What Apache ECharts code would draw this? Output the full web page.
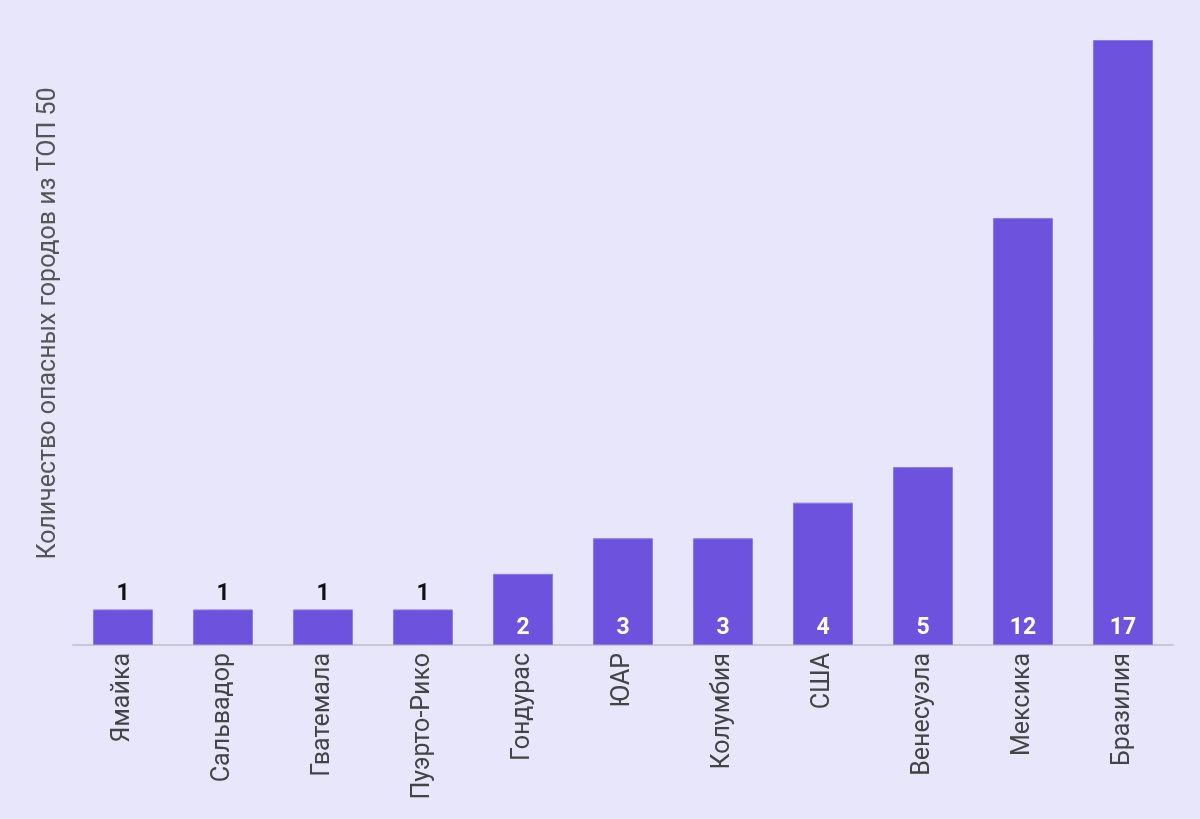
<!DOCTYPE html>
<html><head><meta charset="utf-8">
<style>html,body{margin:0;padding:0;background:#e8e6fa;}#c{width:1200px;height:819px;}</style>
<script src="https://cdn.jsdelivr.net/npm/echarts@6/dist/echarts.min.js"></script>
</head><body><div id="c"></div>
<script>
const categories = ['Ямайка','Сальвадор','Гватемала','Пуэрто-Рико','Гондурас','ЮАР','Колумбия','США','Венесуэла','Мексика','Бразилия'];
const values = [1,1,1,1,2,3,3,4,5,12,17];
const yAxisName = 'Количество опасных городов из ТОП 50';

const chart = echarts.init(document.getElementById('c'));
const data = values.map(v => ({
  value: v,
  label: v < 2
    ? {position: 'top', color: '#111', distance: 4}
    : {position: 'insideBottom', color: '#ffffff', distance: 5}
}));
chart.setOption({
  backgroundColor: '#e8e6fa',
  animation: false,
  grid: {left: 73, right: 27, top: 40, bottom: 174, containLabel: false},
  xAxis: {
    type: 'category', data: categories,
    axisLine: {lineStyle: {color: '#c9c6d6', width: 2}},
    axisTick: {show: false},
    axisLabel: {rotate: 90, color: '#444', fontFamily: 'Roboto', fontSize: 25, margin: 8, interval: 0}
  },
  yAxis: {
    type: 'value', min: 0, max: 17,
    name: yAxisName, nameLocation: 'middle', nameGap: 12,
    nameTextStyle: {color: '#555', fontFamily: 'Roboto', fontSize: 25, padding: [0, 0, 0, 38]},
    axisLine: {show: false}, axisTick: {show: false}, axisLabel: {show: false},
    splitLine: {show: false}
  },
  series: [{
    type: 'bar', data: data, barWidth: 60,
    itemStyle: {color: '#6c52dc', borderColor: '#8c7ae8', borderWidth: 1},
    label: {show: true, fontFamily: 'Roboto', fontWeight: 'bold', fontSize: 23}
  }]
});
</script></body></html>
